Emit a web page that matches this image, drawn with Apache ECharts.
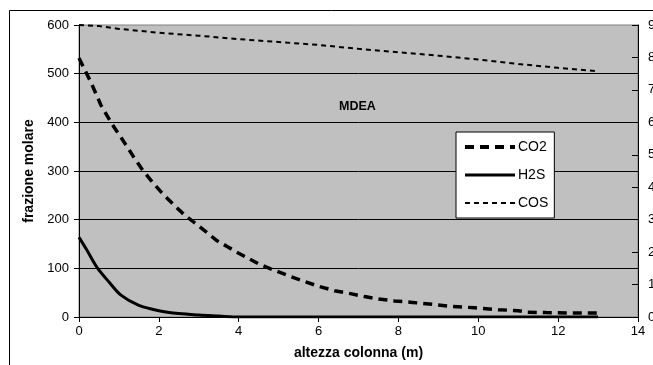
<!DOCTYPE html>
<html>
<head>
<meta charset="utf-8">
<script src="https://cdn.jsdelivr.net/npm/echarts@6/dist/echarts.min.js"></script>
<style>
  html, body { margin: 0; padding: 0; background: #fff; }
  #chart { width: 653px; height: 365px; }
</style>
</head>
<body>
<div id="chart"></div>
<script>
var co2X = [0, 0.3, 0.55, 0.83, 1.1, 1.36, 1.6, 1.87, 2.1, 2.37, 2.65, 2.92, 3.2, 3.45, 3.73, 4, 4.25, 4.5, 4.8, 5.3, 5.65, 6, 6.4, 6.8, 7.15, 7.5, 7.9, 8.35, 8.85, 9.3, 9.9, 10.5, 11, 11.2, 11.7, 12.3, 13];
var co2Y = [532, 482, 435, 396, 363, 330, 301, 274, 253, 231, 209, 192, 174, 157, 144, 131, 120, 109, 99, 83, 73, 63, 54, 48, 42, 37, 33, 30, 26, 22, 19, 15, 13, 10, 9, 8, 8];

var h2sX = [0, 0.2, 0.45, 0.75, 1.05, 1.5, 2, 2.5, 3, 3.5, 4, 5, 6, 7, 8, 9, 10, 11, 12, 13];
var h2sY = [164, 137, 102, 72, 45, 24, 13, 7, 4, 2, 0, 0, 0, 0, 0, 0, 0, 0, 0, 0];

var cosX = [0, 0.5, 1, 1.5, 2, 3, 4, 5, 6, 7, 8, 9, 10, 11, 12, 13];
var cosY = [600, 598, 592, 588, 584, 578, 571, 565, 559, 551, 544, 537, 529, 520, 512, 505];

var xTicks = [0, 14, 2];     // min, max, interval
var yTicks = [0, 600, 100];
var y2Ticks = [0, 9, 1];

function pairs(xs, ys) {
    return xs.map(function (x, i) { return [x, ys[i]]; });
}

var font = 'Liberation Sans';
var chart = echarts.init(document.getElementById('chart'));

var option = {
    backgroundColor: '#ffffff',
    animation: false,
    textStyle: { fontFamily: font },
    title: {
        text: 'MDEA',
        left: 334,
        top: 95,
        textStyle: { fontFamily: font, fontSize: 12.5, fontWeight: 'bold', color: '#000' }
    },
    graphic: [{
        type: 'rect',
        shape: { x: 9.5, y: 10.5, width: 700, height: 400 },
        style: { fill: 'none', stroke: '#000', lineWidth: 1 },
        silent: true,
        z: -1
    }],
    legend: {
        orient: 'vertical',
        left: 456,
        top: 132,
        padding: [8, 6, 8, 7],
        itemWidth: 50,
        itemHeight: 14,
        itemGap: 14,
        backgroundColor: '#ffffff',
        borderColor: '#000',
        borderWidth: 1,
        itemStyle: { opacity: 0 },
        textStyle: { fontFamily: font, fontSize: 14, color: '#000', padding: [0, 0, 0, -2] },
        data: [
            { name: 'CO2', lineStyle: { width: 4 } },
            { name: 'H2S', lineStyle: { width: 3 } },
            { name: 'COS', lineStyle: { width: 2 } }
        ]
    },
    grid: {
        left: 79,
        right: 15,
        top: 25,
        bottom: 48,
        outerBoundsMode: 'none',
        show: true,
        backgroundColor: '#c0c0c0',
        borderColor: '#808080',
        borderWidth: 1
    },
    xAxis: {
        type: 'value',
        min: xTicks[0],
        max: xTicks[1],
        interval: xTicks[2],
        name: 'altezza colonna (m)',
        nameLocation: 'middle',
        nameGap: 29,
        nameTextStyle: { fontFamily: font, fontSize: 14, fontWeight: 'bold', color: '#000' },
        axisLine: { lineStyle: { color: '#000', width: 1 } },
        axisTick: { length: 5, lineStyle: { color: '#000' } },
        axisLabel: { color: '#000', fontSize: 13, margin: 8 },
        splitLine: { show: false }
    },
    yAxis: [{
        type: 'value',
        min: yTicks[0],
        max: yTicks[1],
        interval: yTicks[2],
        name: 'frazione molare',
        nameLocation: 'middle',
        nameGap: 37,
        nameTextStyle: { fontFamily: font, fontSize: 14, fontWeight: 'bold', color: '#000' },
        axisLine: { show: true, lineStyle: { color: '#000', width: 1 } },
        axisTick: { show: true, length: 5, lineStyle: { color: '#000' } },
        axisLabel: { color: '#000', fontSize: 13, margin: 10 },
        splitLine: { show: true, showMinLine: false, showMaxLine: false, lineStyle: { color: '#000', width: 1 } }
    }, {
        type: 'value',
        position: 'right',
        min: y2Ticks[0],
        max: y2Ticks[1],
        interval: y2Ticks[2],
        axisLine: { show: true, lineStyle: { color: '#000', width: 1 } },
        axisTick: { show: true, inside: true, length: 6, lineStyle: { color: '#000' } },
        axisLabel: { color: '#000', fontSize: 13, margin: 10 },
        splitLine: { show: false }
    }],
    series: [{
        name: 'CO2',
        type: 'line',
        symbol: 'none',
        data: pairs(co2X, co2Y),
        lineStyle: { color: '#000', width: 3.5, type: [9, 6] },
        itemStyle: { color: '#000' },
        z: 3
    }, {
        name: 'H2S',
        type: 'line',
        symbol: 'none',
        smooth: 0.3,
        data: pairs(h2sX, h2sY),
        lineStyle: { color: '#000', width: 3, type: 'solid' },
        itemStyle: { color: '#000' },
        z: 3
    }, {
        name: 'COS',
        type: 'line',
        symbol: 'none',
        data: pairs(cosX, cosY),
        lineStyle: { color: '#000', width: 2, type: [5, 4] },
        itemStyle: { color: '#000' },
        z: 3
    }]
};

chart.setOption(option);
</script>
</body>
</html>
